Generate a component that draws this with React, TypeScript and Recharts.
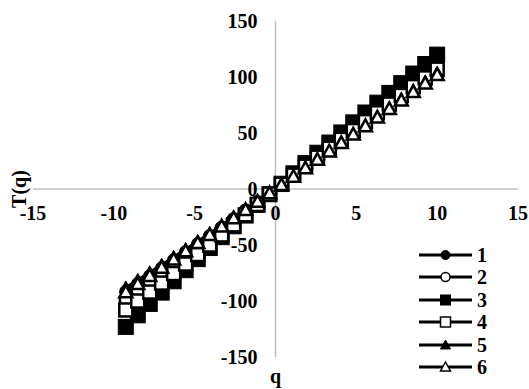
import React from "react";
import { LineChart, Line, XAxis, YAxis, ReferenceLine, Legend } from "recharts";

// q values (27 points, step ~0.74)
const Q = [
  -9.26, -8.52, -7.78, -7.04, -6.3, -5.56, -4.81, -4.07, -3.33, -2.59, -1.85, -1.11, -0.37,
  0.37, 1.11, 1.85, 2.59, 3.33, 4.07, 4.81, 5.56, 6.3, 7.04, 7.78, 8.52, 9.26, 10,
];

const T1 = [
  -91.2, -84.2, -77.3, -70.2, -63.1, -55.9, -48.7, -41.4, -34.0, -26.6, -19.1, -11.5, -3.8,
  3.9, 11.6, 19.5, 27.4, 35.3, 43.4, 51.5, 59.6, 67.9, 76.2, 84.5, 93.0, 101.4, 110.0,
];
const T2 = [
  -99.0, -91.0, -83.0, -75.0, -67.0, -59.0, -51.0, -43.0, -35.0, -27.3, -19.5, -11.8, -3.9,
  3.9, 11.8, 19.6, 27.5, 35.5, 43.4, 51.5, 59.5, 67.6, 75.7, 83.9, 92.0, 100.2, 108.5,
];
const T3 = [
  -123.1, -112.8, -102.6, -92.5, -82.4, -72.5, -62.6, -52.7, -43.0, -33.3, -23.7, -14.2, -4.7,
  4.7, 14.0, 23.2, 32.4, 41.5, 50.5, 59.5, 68.3, 77.1, 85.8, 94.5, 103.1, 111.6, 120.0,
];
const T4 = [
  -108.0, -100.0, -92.0, -84.0, -75.5, -67.0, -58.5, -50.0, -41.0, -32.0, -23.0, -13.8, -4.5,
  4.2, 12.4, 20.4, 28.4, 36.4, 44.3, 52.2, 60.1, 68.0, 75.8, 83.6, 91.4, 99.2, 107.0,
];
const T5 = [
  -87.9, -81.2, -74.4, -67.6, -60.7, -53.7, -46.7, -39.7, -32.6, -25.4, -18.2, -11.0, -3.7,
  3.7, 11.1, 18.5, 26.1, 33.6, 41.2, 48.9, 56.6, 64.4, 72.2, 80.1, 88.0, 96.0, 104.0,
];
const T6 = [
  -91.9, -84.7, -77.4, -70.1, -62.8, -55.5, -48.1, -40.8, -33.4, -26.0, -18.6, -11.2, -3.7,
  3.7, 11.2, 18.7, 26.2, 33.7, 41.2, 48.8, 56.3, 64.0, 71.5, 79.1, 86.7, 94.4, 102.0,
];

const X_TICKS = [-15, -10, -5, 0, 5, 10, 15];
const Y_TICKS = [-150, -100, -50, 0, 50, 100, 150];
const SERIES_NAMES = ["1", "2", "3", "4", "5", "6"];

const data = Q.map((q, i) => ({
  q,
  s1: T1[i],
  s2: T2[i],
  s3: T3[i],
  s4: T4[i],
  s5: T5[i],
  s6: T6[i],
}));

const W = 529;
const H = 389;
const M = { top: 21, right: 11, left: 32, bottom: 31 };
const PLOT_LEFT = M.left + 1;
const PLOT_BOTTOM = H - M.bottom - 1;
const ZERO_X = PLOT_LEFT + (W - M.right - PLOT_LEFT) / 2;
const ZERO_Y = M.top + (PLOT_BOTTOM - M.top) / 2;
const FONT = "'Liberation Serif', 'Times New Roman', serif";

type Kind = "circle" | "circleOpen" | "square" | "squareOpen" | "triangle" | "triangleOpen";

const SERIES: { key: string; marker: Kind }[] = [
  { key: "s1", marker: "circle" },
  { key: "s2", marker: "circleOpen" },
  { key: "s3", marker: "square" },
  { key: "s4", marker: "squareOpen" },
  { key: "s5", marker: "triangle" },
  { key: "s6", marker: "triangleOpen" },
];

function Marker({ kind, cx, cy, size, sw = 2.5 }: { kind: Kind; cx: number; cy: number; size: number; sw?: number }) {
  const h = size / 2;
  const open = kind.endsWith("Open");
  const fill = open ? "#fff" : "#000";
  const w = open ? sw : 1;
  if (kind.startsWith("circle")) {
    return <circle cx={cx} cy={cy} r={h - 0.5} fill={fill} stroke="#000" strokeWidth={w} />;
  }
  if (kind.startsWith("square")) {
    return <rect x={cx - h} y={cy - h} width={size} height={size} fill={fill} stroke="#000" strokeWidth={w} />;
  }
  const pts = `${cx},${cy - h} ${cx + h},${cy + h * 0.8} ${cx - h},${cy + h * 0.8}`;
  return <polygon points={pts} fill={fill} stroke="#000" strokeWidth={w} strokeLinejoin="miter" />;
}

const markerSize = (k: Kind) => (k === "square" ? 15 : 13);

const XTick = (props: any) => (
  <text
    x={props.x}
    y={ZERO_Y + 24}
    textAnchor="middle"
    dominantBaseline="central"
    fontFamily={FONT}
    fontWeight="bold"
    fontSize={20}
    fill="#000"
  >
    {props.payload.value}
  </text>
);

const YTick = (props: any) => (
  <text
    x={ZERO_X - 18}
    y={props.y}
    textAnchor="end"
    dominantBaseline="central"
    fontFamily={FONT}
    fontWeight="bold"
    fontSize={20}
    fill="#000"
  >
    {props.payload.value}
  </text>
);

const renderLegend = () => (
  <div style={{ fontFamily: FONT, fontWeight: "bold", fontSize: 20, lineHeight: "22.5px" }}>
    {SERIES.map((s, i) => (
      <div key={s.key} style={{ display: "flex", alignItems: "center", height: 22.5 }}>
        <svg width={62} height={22} style={{ display: "block" }}>
          <line x1={4} x2={57} y1={11} y2={11} stroke="#000" strokeWidth={3} />
          <Marker kind={s.marker} cx={30.5} cy={11} size={10} sw={1.5} />
        </svg>
        <span>{SERIES_NAMES[i]}</span>
      </div>
    ))}
  </div>
);

export default function App() {
  return (
    <div style={{ position: "absolute", left: 0, top: 0, width: W, height: H, background: "#fff" }}>
      <LineChart width={W} height={H} data={data} margin={M}>
        <XAxis
          dataKey="q"
          type="number"
          domain={[-15, 15]}
          ticks={X_TICKS}
          interval={0}
          axisLine={false}
          tickLine={false}
          height={1}
          tick={XTick}
          label={{
            content: () => (
              <text
                x={ZERO_X}
                y={ZERO_Y + 187}
                textAnchor="middle"
                dominantBaseline="central"
                fontFamily={FONT}
                fontWeight="bold"
                fontSize={20}
              >
                q
              </text>
            ),
          }}
        />
        <YAxis
          type="number"
          domain={[-150, 150]}
          ticks={Y_TICKS}
          interval={0}
          axisLine={false}
          tickLine={false}
          width={1}
          tick={YTick}
          label={{
            content: () => {
              const x = 19;
              const y = ZERO_Y;
              return (
                <text
                  x={x}
                  y={y}
                  transform={`rotate(-90 ${x} ${y})`}
                  textAnchor="middle"
                  dominantBaseline="central"
                  fontFamily={FONT}
                  fontWeight="bold"
                  fontSize={20}
                >
                  T(q)
                </text>
              );
            },
          }}
        />
        <ReferenceLine x={0} stroke="#bfbfbf" strokeWidth={1.5} />
        <ReferenceLine y={0} stroke="#bfbfbf" strokeWidth={1.5} />
        {SERIES.map((s, i) => (
          <Line
            key={s.key}
            dataKey={s.key}
            name={SERIES_NAMES[i]}
            stroke="#000"
            strokeWidth={3}
            isAnimationActive={false}
            dot={(p: any) => (
              <Marker
                key={`${s.key}-${p.index}`}
                kind={s.marker}
                cx={p.cx}
                cy={p.cy}
                size={markerSize(s.marker)}
              />
            )}
          />
        ))}
        <Legend
          layout="vertical"
          verticalAlign="middle"
          align="center"
          content={renderLegend}
          wrapperStyle={{ position: "absolute", left: 415, top: 243.5, width: 100, bottom: "auto", right: "auto" }}
        />
      </LineChart>
    </div>
  );
}
